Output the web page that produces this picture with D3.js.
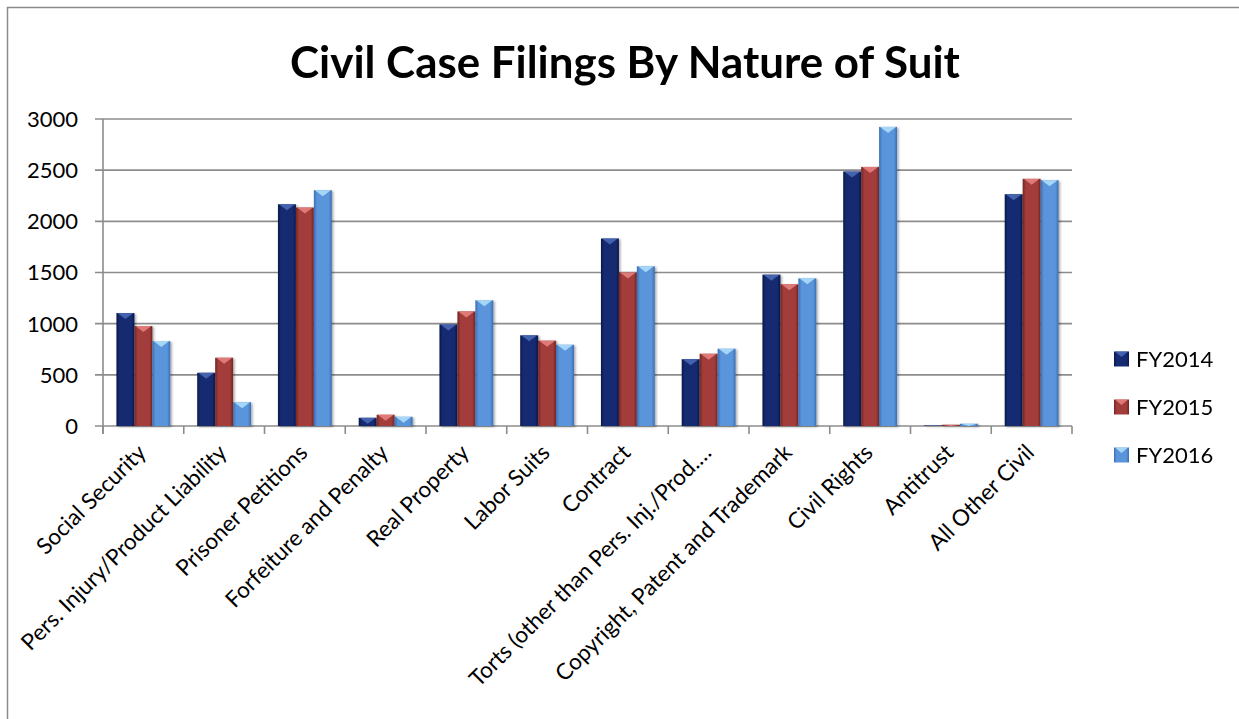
<!DOCTYPE html>
<html><head><meta charset="utf-8">
<script src="https://cdn.jsdelivr.net/npm/d3@7"></script>
<style>html,body{margin:0;padding:0;background:#fff;overflow:hidden}</style>
</head><body><svg id="c" width="1239" height="719"></svg>
<script>
const categories = ["Social Security","Pers. Injury/Product Liability","Prisoner Petitions","Forfeiture and Penalty","Real Property","Labor Suits","Contract","Torts (other than Pers. Inj./Prod.…","Copyright, Patent and Trademark","Civil Rights","Antitrust","All Other Civil"];
const seriesNames = ["FY2014","FY2015","FY2016"];
const fy2014 = [1104, 520, 2167, 80, 993, 886, 1832, 653, 1479, 2487, 5, 2265];
const fy2015 = [977, 667, 2135, 110, 1120, 834, 1499, 706, 1385, 2532, 12, 2415];
const fy2016 = [830, 233, 2304, 90, 1228, 794, 1561, 755, 1443, 2923, 22, 2402];
const yTicks = [0, 500, 1000, 1500, 2000, 2500, 3000];
const title = "Civil Case Filings By Nature of Suit";

const series = [fy2014, fy2015, fy2016];
const colors = [
  {mid:"#152c72", edge:"#0a1849", top:"#4d6cb8"},
  {mid:"#a23d3b", edge:"#732523", top:"#ea8582"},
  {mid:"#5a95dc", edge:"#3c6fb2", top:"#b3e2fb"}
];
const FONT = "Lato, 'Open Sans', sans-serif";
const svg = d3.select("#c");
const defs = svg.append("defs");
colors.forEach((c,i)=>{
  const g = defs.append("linearGradient").attr("id","g"+i).attr("x1","0").attr("x2","1").attr("y1","0").attr("y2","0");
  g.append("stop").attr("offset","0").attr("stop-color",c.edge);
  g.append("stop").attr("offset","0.18").attr("stop-color",c.mid);
  g.append("stop").attr("offset","0.82").attr("stop-color",c.mid);
  g.append("stop").attr("offset","1").attr("stop-color",c.edge);
});
const f = defs.append("filter").attr("id","sh").attr("x","-20%").attr("y","-5%").attr("width","150%").attr("height","115%");
f.append("feDropShadow").attr("dx",1.5).attr("dy",1).attr("stdDeviation",1.2).attr("flood-color","#000").attr("flood-opacity",0.35);

// outer border
svg.append("rect").attr("x",7.5).attr("y",7.5).attr("width",1240).attr("height",720)
  .attr("fill","none").attr("stroke","#8a8a8a").attr("stroke-width",1.5);

const x0 = 103, x1 = 1072, yTop = 119, yBot = 426;
const x = d3.scaleBand().domain(categories).range([x0,x1]).padding(0);
const bw = x.bandwidth()/4.5;
const xs = d3.scaleBand().domain(seriesNames).range([bw*0.75, bw*3.75]).padding(0);
const y = d3.scaleLinear().domain([0,3000]).range([yBot,yTop]);

// gridlines
const grid = svg.append("g");
grid.selectAll("line").data(yTicks).join("line")
  .attr("x1",x0-8).attr("x2",x1).attr("y1",d=>y(d)).attr("y2",d=>y(d))
  .attr("stroke","#8c8c8c").attr("stroke-width",1.6);
// y axis line
svg.append("line").attr("x1",x0).attr("x2",x0).attr("y1",yTop).attr("y2",yBot+8)
  .attr("stroke","#8c8c8c").attr("stroke-width",1.6);
// y labels
svg.append("g").selectAll("text").data(yTicks).join("text")
  .attr("x",78).attr("y",d=>y(d)).attr("dy","0.36em").attr("text-anchor","end")
  .attr("font-family",FONT).attr("font-size",22).attr("fill","#000").text(d=>d);
// x ticks
const xtk = categories.map(c=>x(c)).concat([x1]);
svg.append("g").selectAll("line").data(xtk).join("line")
  .attr("x1",d=>d).attr("x2",d=>d).attr("y1",yBot).attr("y2",yBot+8)
  .attr("stroke","#8c8c8c").attr("stroke-width",1.6);

// bars
const bars = svg.append("g");
series.forEach((vals,si)=>{
  const gs = bars.append("g").attr("filter","url(#sh)");
  const w = xs.bandwidth();
  vals.forEach((v,ci)=>{
    const bx = x(categories[ci]) + xs(seriesNames[si]);
    const by = y(v), h = yBot - by;
    if (h <= 0) return;
    gs.append("rect").attr("x",bx).attr("y",by).attr("width",w).attr("height",h).attr("fill",`url(#g${si})`);
    const th = Math.min(6, h);
    gs.append("path").attr("d",`M${bx+1},${by} L${bx+w-1},${by} L${bx+w/2},${by+th} Z`)
      .attr("fill",colors[si].top).attr("opacity",0.85);
  });
});

// x labels
svg.append("g").selectAll("text").data(categories).join("text")
  .attr("transform",d=>`translate(${x(d)+x.bandwidth()/2+4},${yBot+28}) rotate(-45)`)
  .attr("text-anchor","end").attr("font-family",FONT).attr("font-size",22.5).attr("fill","#000")
  .text(d=>d);

// title
const t = svg.append("text").attr("x",625).attr("y",78).attr("text-anchor","middle")
  .attr("font-family",FONT).attr("font-weight","bold").attr("font-size",40).attr("fill","#000").text(title);
const tw = t.node().getComputedTextLength();
t.attr("font-size", 40*670/tw);

// legend
const lg = svg.append("g");
seriesNames.forEach((n,i)=>{
  const cy = 359 + i*48;
  lg.append("rect").attr("x",1114).attr("y",cy-7.5).attr("width",15).attr("height",15).attr("fill",`url(#g${i})`);
  lg.append("path").attr("d",`M1115,${cy-7.5} L1128,${cy-7.5} L1121.5,${cy-2} Z`).attr("fill",colors[i].top).attr("opacity",0.85);
  lg.append("text").attr("x",1136).attr("y",cy).attr("dy","0.36em")
    .attr("font-family",FONT).attr("font-size",22).attr("fill","#000").text(n);
});
</script></body></html>
